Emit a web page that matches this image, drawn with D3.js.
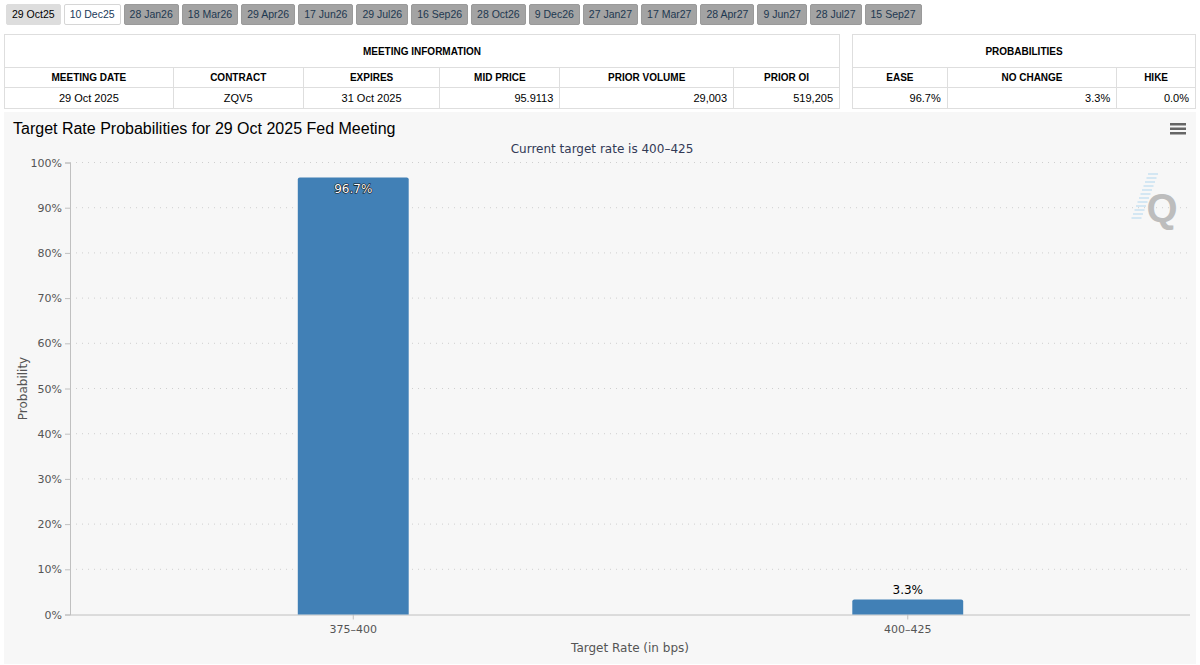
<!DOCTYPE html>
<html>
<head>
<meta charset="utf-8">
<script src="https://cdn.jsdelivr.net/npm/d3@7"></script>
<style>
  body { margin: 0; width: 1200px; height: 665px; background: #fff; font-family: Arial, "Liberation Sans", sans-serif; overflow: hidden; position: relative; }
  #tabs { position: absolute; left: 6px; top: 4px; display: flex; }
  .tab { height: 21px; line-height: 19px; padding: 0 5px; margin-right: 3px; font-size: 10.5px; border-radius: 2px; box-sizing: border-box; border: 1px solid; }
  .tab.active { background: #dddddd; color: #000; border-color: #dddddd; }
  .tab.next { background: #fff; color: #1a3a5a; border-color: #d6d6d6; }
  .tab.other { background: #a3a3a3; color: #1d3850; border-color: #9a9a9a; }
  table { position: absolute; top: 34px; border-collapse: collapse; font-size: 10px; color: #000; }
  td { border: 1px solid #dedede; padding: 0 6px; box-sizing: border-box; }
  tr.h1 td { height: 33px; font-weight: bold; text-align: center; }
  tr.h2 td { height: 20px; font-weight: bold; text-align: center; }
  tr.d td { height: 21px; font-size: 11px; }
  #info { left: 4px; width: 836px; }
  #prob { left: 852px; width: 344px; }
  svg { position: absolute; left: 0; top: 0; }
</style>
</head>
<body>
<div id="tabs"></div>
<table id="info"></table>
<table id="prob"></table>
<svg id="chart" width="1200" height="665"></svg>
<script>
// meeting tabs
const meetings = ["29 Oct25", "10 Dec25", "28 Jan26", "18 Mar26", "29 Apr26", "17 Jun26", "29 Jul26",
  "16 Sep26", "28 Oct26", "9 Dec26", "27 Jan27", "17 Mar27", "28 Apr27", "9 Jun27", "28 Jul27", "15 Sep27"];

// meeting info table
const infoCols = ["MEETING DATE", "CONTRACT", "EXPIRES", "MID PRICE", "PRIOR VOLUME", "PRIOR OI"];
const infoVals = ["29 Oct 2025", "ZQV5", "31 Oct 2025", "95.9113", "29,003", "519,205"];
const infoWidths = [169, 130, 137, 120, 174, 106];
const infoAlign = ["center", "center", "center", "right", "right", "right"];

// probabilities table
const probCols = ["EASE", "NO CHANGE", "HIKE"];
const probVals = ["96.7%", "3.3%", "0.0%"];
const probWidths = [95, 170, 79];

// chart data
const rates = ["375\u2013400", "400\u2013425"];
const probs = [96.7, 3.3];
const yTicks = [0, 10, 20, 30, 40, 50, 60, 70, 80, 90, 100];

d3.select("#tabs").selectAll("div").data(meetings).enter()
  .append("div")
  .attr("class", (d, i) => "tab " + (i == 0 ? "active" : i == 1 ? "next" : "other"))
  .text(d => d);

function buildTable(sel, title, cols, vals, widths, align) {
  const t = d3.select(sel);
  t.append("tr").attr("class", "h1").append("td").attr("colspan", cols.length).text(title);
  t.append("tr").attr("class", "h2").selectAll("td").data(cols).enter()
    .append("td").style("width", (d, i) => widths[i] + "px").text(d => d);
  t.append("tr").attr("class", "d").selectAll("td").data(vals).enter()
    .append("td").style("text-align", (d, i) => align ? align[i] : "right").text(d => d);
}
buildTable("#info", "MEETING INFORMATION", infoCols, infoVals, infoWidths, infoAlign);
buildTable("#prob", "PROBABILITIES", probCols, probVals, probWidths, null);

const svg = d3.select("#chart");
const axisFont = '"Lucida Grande", "DejaVu Sans", sans-serif';

svg.append("rect").attr("x", 4).attr("y", 112).attr("width", 1192).attr("height", 552).attr("fill", "#f7f7f7");

svg.append("text").attr("x", 13).attr("y", 134)
  .style("font-family", "Arial, 'Liberation Sans', sans-serif").style("font-size", "16px").attr("fill", "#000")
  .text("Target Rate Probabilities for 29 Oct 2025 Fed Meeting");

svg.append("text").attr("x", 602).attr("y", 153).attr("text-anchor", "middle")
  .style("font-family", axisFont).style("font-size", "12px").attr("fill", "#333a56")
  .text("Current target rate is 400\u2013425");

const plotL = 70, plotR = 1190, plotT = 162.5, plotB = 614.5;

const y = d3.scaleLinear().domain([0, 100]).range([plotB, plotT]);
const x = d3.scaleBand().domain(rates).range([76, 1185]).paddingInner(0.8).paddingOuter(0.4);

// grid
svg.append("g").selectAll("line").data(yTicks.filter(d => d > 0)).enter()
  .append("line")
  .attr("x1", plotL).attr("x2", plotR)
  .attr("y1", d => y(d)).attr("y2", d => y(d))
  .attr("stroke", "#cfcfcf").attr("stroke-dasharray", "1,5");

// y axis
const yAxis = svg.append("g").attr("transform", `translate(${plotL},0)`)
  .call(d3.axisLeft(y).tickValues(yTicks).tickFormat(d => d + "%").tickSize(5).tickPadding(3));
yAxis.select(".domain").attr("stroke", "#c0c0c0");
yAxis.selectAll(".tick line").attr("stroke", "#c0c0c0");
yAxis.selectAll("text").style("font-family", axisFont).style("font-size", "11px").attr("fill", "#555");

// x axis
const xAxis = svg.append("g").attr("transform", `translate(0,${plotB})`)
  .call(d3.axisBottom(x).tickSize(5).tickPadding(6).tickSizeOuter(0));
xAxis.select(".domain").attr("d", `M${plotL},0.5H${plotR}`).attr("stroke", "#c0c0c0");
xAxis.selectAll(".tick line").attr("stroke", "#c0c0c0");
xAxis.selectAll("text").style("font-family", axisFont).style("font-size", "11px").attr("fill", "#555");

svg.append("text").attr("x", 630).attr("y", 652).attr("text-anchor", "middle")
  .style("font-family", axisFont).style("font-size", "12px").attr("fill", "#555")
  .text("Target Rate (in bps)");

svg.append("text").attr("transform", `translate(27,${(plotT + plotB) / 2}) rotate(-90)`)
  .attr("text-anchor", "middle")
  .style("font-family", axisFont).style("font-size", "12px").attr("fill", "#555")
  .text("Probability");

// bars with rounded top corners
const r = 2;
svg.append("g").selectAll("path").data(probs).enter()
  .append("path")
  .attr("d", (d, i) => {
    const x0 = x(rates[i]), w = x.bandwidth(), y0 = y(d);
    return `M${x0},${plotB}V${y0 + r}Q${x0},${y0} ${x0 + r},${y0}H${x0 + w - r}Q${x0 + w},${y0} ${x0 + w},${y0 + r}V${plotB}Z`;
  })
  .attr("fill", "#4180b6");

// data labels
svg.append("g").selectAll("text").data(probs).enter()
  .append("text")
  .attr("x", (d, i) => x(rates[i]) + x.bandwidth() / 2)
  .attr("y", d => d > 50 ? y(d) + 16 : y(d) - 6)
  .attr("text-anchor", "middle")
  .style("font-family", axisFont).style("font-size", "12px")
  .attr("fill", d => d > 50 ? "#fff" : "#000")
  .attr("stroke", d => d > 50 ? "#111" : "none")
  .attr("stroke-width", 1.2)
  .attr("paint-order", "stroke")
  .text(d => d.toFixed(1) + "%");

// menu icon
svg.append("g").selectAll("rect").data([0, 1, 2]).enter()
  .append("rect").attr("x", 1170).attr("y", d => 123 + d * 4.5).attr("width", 16).attr("height", 2.5)
  .attr("fill", "#666");

// watermark
const wm = svg.append("g");
wm.selectAll("line").data(d3.range(12)).enter()
  .append("line")
  .attr("x1", d => 1154 - d * 1.5 - 6).attr("x2", d => 1154 - d * 1.5 + 4)
  .attr("y1", d => 174 + d * 4).attr("y2", d => 174 + d * 4)
  .attr("stroke", "#bcdcf0").attr("stroke-width", 1.2);
wm.append("text").attr("x", 1162).attr("y", 222).attr("text-anchor", "middle")
  .style("font-family", "Arial, 'Liberation Sans', sans-serif").style("font-size", "40px").style("font-weight", "bold")
  .attr("fill", "#bdbdbd").text("Q");
</script>
</body>
</html>
